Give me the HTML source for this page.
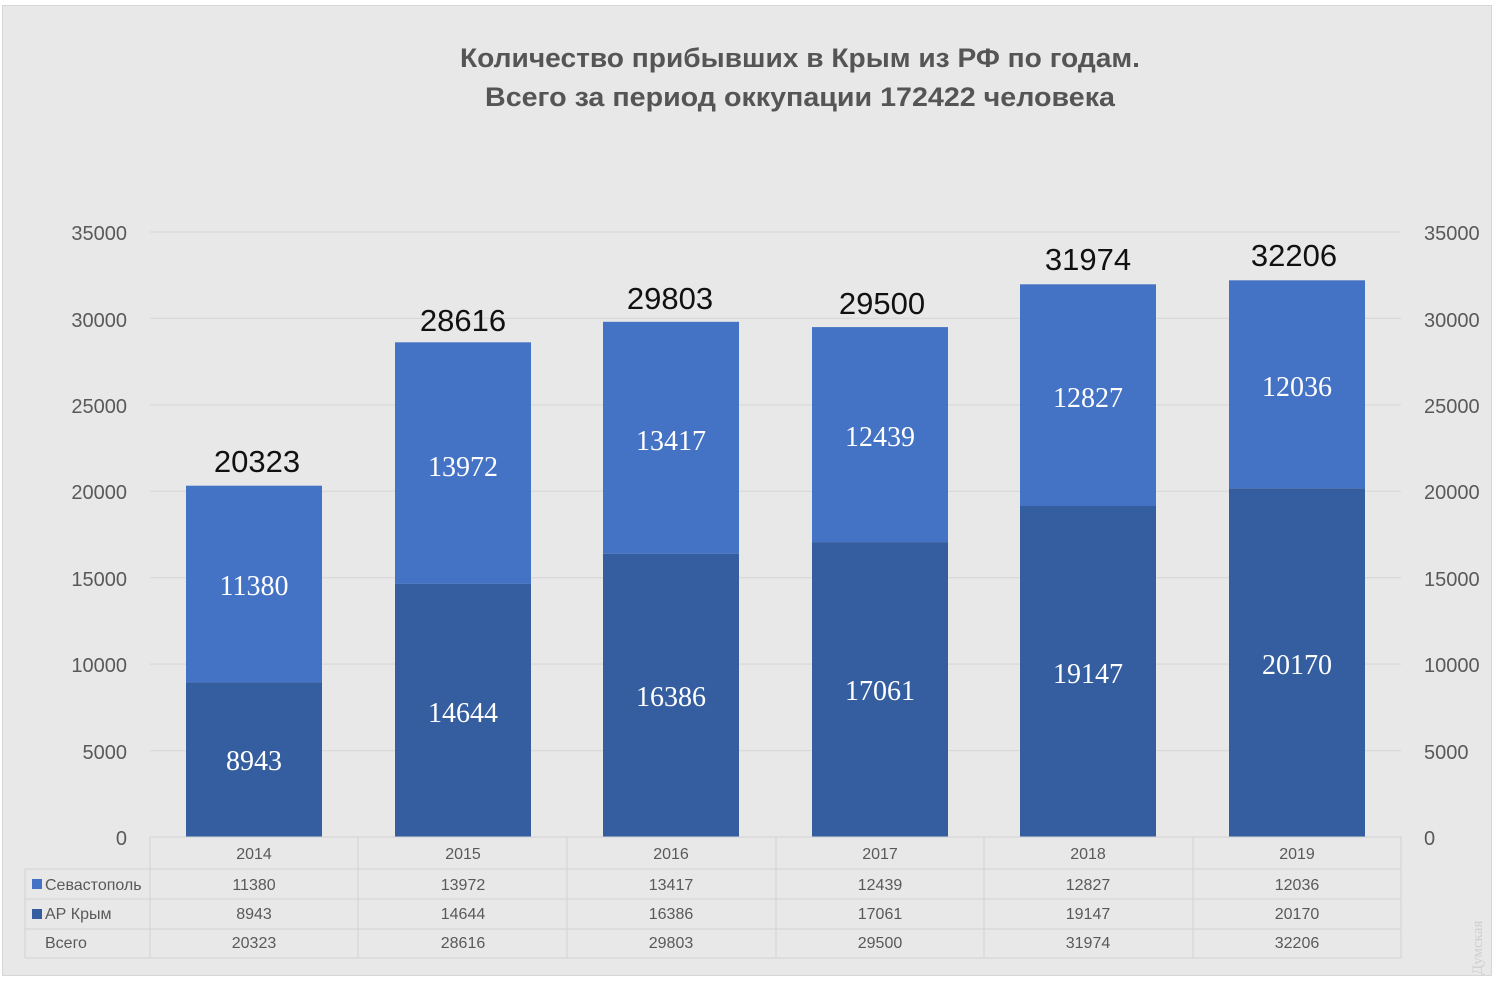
<!DOCTYPE html>
<html><head><meta charset="utf-8"><style>
html,body{margin:0;padding:0;background:#fff;}
svg{display:block;}
</style></head><body>
<svg width="1500" height="983" xmlns="http://www.w3.org/2000/svg">
<rect x="0" y="0" width="1500" height="983" fill="#ffffff"/>
<rect x="2.5" y="5.5" width="1489" height="970" fill="#e8e8e8" stroke="#d6d6d6"/>
<g font-family="Liberation Sans, sans-serif" font-weight="bold" fill="#555" font-size="27" text-anchor="middle">
<text x="800" y="67" textLength="680" lengthAdjust="spacingAndGlyphs">Количество прибывших в Крым из РФ по годам.</text>
<text x="800" y="106" textLength="630" lengthAdjust="spacingAndGlyphs">Всего за период оккупации 172422 человека</text>
</g>
<g stroke="#d9d9d9" stroke-width="1.2">
<line x1="150" x2="1401" y1="232" y2="232"/>
<line x1="150" x2="1401" y1="318.4" y2="318.4"/>
<line x1="150" x2="1401" y1="404.9" y2="404.9"/>
<line x1="150" x2="1401" y1="491.3" y2="491.3"/>
<line x1="150" x2="1401" y1="577.6" y2="577.6"/>
<line x1="150" x2="1401" y1="664.1" y2="664.1"/>
<line x1="150" x2="1401" y1="750.6" y2="750.6"/>
</g>
<g font-family="Liberation Sans, sans-serif" font-size="20" fill="#595959">
<g text-anchor="end">
<text x="127" y="240">35000</text><text x="127" y="327">30000</text><text x="127" y="413">25000</text><text x="127" y="499">20000</text><text x="127" y="586">15000</text><text x="127" y="672">10000</text><text x="127" y="759">5000</text><text x="127" y="845">0</text>
</g>
<g text-anchor="start">
<text x="1424" y="240">35000</text><text x="1424" y="327">30000</text><text x="1424" y="413">25000</text><text x="1424" y="499">20000</text><text x="1424" y="586">15000</text><text x="1424" y="672">10000</text><text x="1424" y="759">5000</text><text x="1424" y="845">0</text>
</g>
</g>
<g>
<rect x="186" y="485.7" width="136" height="196.7" fill="#4472c4"/><rect x="186" y="682.4" width="136" height="154.6" fill="#355ea0"/>
<rect x="395" y="342.3" width="136" height="241.6" fill="#4472c4"/><rect x="395" y="583.9" width="136" height="253.1" fill="#355ea0"/>
<rect x="603" y="321.8" width="136" height="232" fill="#4472c4"/><rect x="603" y="553.8" width="136" height="283.2" fill="#355ea0"/>
<rect x="812" y="327.1" width="136" height="215" fill="#4472c4"/><rect x="812" y="542.1" width="136" height="294.9" fill="#355ea0"/>
<rect x="1020" y="284.3" width="136" height="221.7" fill="#4472c4"/><rect x="1020" y="506" width="136" height="331" fill="#355ea0"/>
<rect x="1229" y="280.3" width="136" height="208" fill="#4472c4"/><rect x="1229" y="488.3" width="136" height="348.7" fill="#355ea0"/>
</g>
<g font-family="Liberation Serif, serif" font-size="28" fill="#fff" text-anchor="middle">
<text x="254" y="595">11380</text><text x="254" y="770">8943</text>
<text x="463" y="476">13972</text><text x="463" y="722">14644</text>
<text x="671" y="450">13417</text><text x="671" y="706">16386</text>
<text x="880" y="446">12439</text><text x="880" y="700">17061</text>
<text x="1088" y="407">12827</text><text x="1088" y="683">19147</text>
<text x="1297" y="396">12036</text><text x="1297" y="674">20170</text>
</g>
<g font-family="Liberation Sans, sans-serif" font-size="31" fill="#111" text-anchor="middle">
<text x="257" y="472">20323</text>
<text x="463" y="331">28616</text>
<text x="670" y="309">29803</text>
<text x="882" y="314">29500</text>
<text x="1088" y="270">31974</text>
<text x="1294" y="266">32206</text>
</g>
<g stroke="#d2d2d2" stroke-width="1" fill="none">
<line x1="150" x2="1401" y1="869" y2="869"/>
<line x1="25" x2="1401" y1="899" y2="899"/>
<line x1="25" x2="1401" y1="929" y2="929"/>
<line x1="25" x2="1401" y1="958" y2="958"/>
<line x1="25" x2="150" y1="869" y2="869"/>
<line x1="25" x2="25" y1="869" y2="958"/>
<line x1="150" x2="150" y1="837" y2="958"/>
<line x1="358" x2="358" y1="837" y2="958"/>
<line x1="567" x2="567" y1="837" y2="958"/>
<line x1="776" x2="776" y1="837" y2="958"/>
<line x1="984" x2="984" y1="837" y2="958"/>
<line x1="1193" x2="1193" y1="837" y2="958"/>
<line x1="1401" x2="1401" y1="837" y2="958"/>
</g>
<line x1="150" x2="1401" y1="837" y2="837" stroke="#d2d2d2"/>
<rect x="32" y="879" width="10" height="10" fill="#4472c4"/>
<rect x="32" y="909" width="10" height="10" fill="#355ea0"/>
<g font-family="Liberation Sans, sans-serif" font-size="16" fill="#595959">
<text x="45" y="890">Севастополь</text>
<text x="45" y="919">АР Крым</text>
<text x="45" y="948">Всего</text>
<g text-anchor="middle">
<text x="254" y="859">2014</text><text x="463" y="859">2015</text><text x="671" y="859">2016</text><text x="880" y="859">2017</text><text x="1088" y="859">2018</text><text x="1297" y="859">2019</text>
<text x="254" y="890">11380</text><text x="463" y="890">13972</text><text x="671" y="890">13417</text><text x="880" y="890">12439</text><text x="1088" y="890">12827</text><text x="1297" y="890">12036</text>
<text x="254" y="919">8943</text><text x="463" y="919">14644</text><text x="671" y="919">16386</text><text x="880" y="919">17061</text><text x="1088" y="919">19147</text><text x="1297" y="919">20170</text>
<text x="254" y="948">20323</text><text x="463" y="948">28616</text><text x="671" y="948">29803</text><text x="880" y="948">29500</text><text x="1088" y="948">31974</text><text x="1297" y="948">32206</text>
</g>
</g>
<text x="0" y="0" transform="translate(1482,975) rotate(-90)" font-family="Liberation Serif, serif" font-size="15" fill="#cfcfcf">Думская</text>
</svg>
</body></html>
